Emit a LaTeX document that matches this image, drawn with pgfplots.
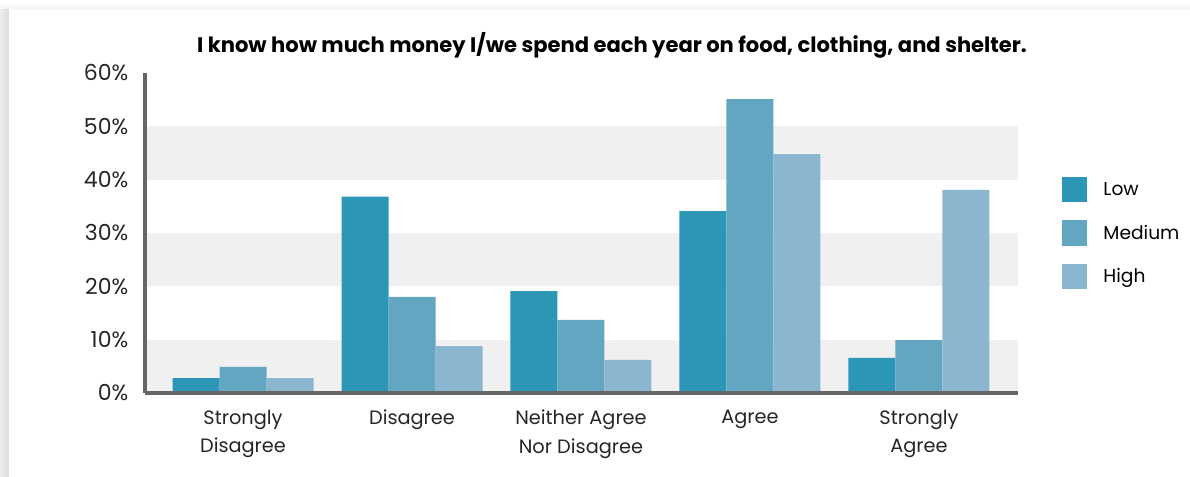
\documentclass[border=0pt]{standalone}
\usepackage{fontspec}
\setmainfont{Poppins}
\usepackage{pgfplots}
\pgfplotsset{compat=1.18}
\definecolor{cLow}{HTML}{2C96B6}
\definecolor{cMed}{HTML}{62A6C1}
\definecolor{cHigh}{HTML}{8BB6D0}
\definecolor{band}{HTML}{F0F0F0}
\definecolor{axisgray}{HTML}{666666}
\definecolor{shadowL}{HTML}{EDEDED}
\definecolor{shadowD}{HTML}{DCDCDC}
\definecolor{shadowT}{HTML}{F4F4F4}
\begin{document}
\begin{tikzpicture}[x=0.75pt,y=0.75pt]
\useasboundingbox (0,0) rectangle (1190,477);
\shade[top color=white, bottom color=shadowT] (0,467) rectangle (1190,477);
\shade[left color=shadowL, right color=shadowD] (0,0) rectangle (9,467);
\fill[white] (9,0) rectangle (1190,467);
\coordinate (O) at (145,84);
\node[font=\bfseries\fontsize{15.8}{18}\selectfont, text=black] at (612,432) {I know how much money I/we spend each year on food, clothing, and shelter.};
\begin{axis}[
  at={(O)}, anchor=south west,
  scale only axis, width=654.75pt, height=240pt,
  ymin=0, ymax=60, xmin=-0.58, xmax=4.586,
  ytick={0,10,...,60},
  yticklabel={\pgfmathprintnumber{\tick}\%},
  xtick={0,1,2,3,4},
  xticklabels={{Strongly\\Disagree},{Disagree},{Neither Agree\\Nor Disagree},{Agree},{Strongly\\Agree}},
  /pgf/number format/assume math mode=true,
  major tick length=0pt,
  axis on top=true,
  axis x line*=bottom, axis y line*=left,
  axis line style={axisgray, line width=2.3pt, -},
  every outer x axis line/.append style={axisgray, line width=2.3pt},
  every outer y axis line/.append style={axisgray, line width=2.3pt},
  ticklabel style={font=\fontsize{14.5}{21.7}\selectfont, text=black!85},
  xticklabel style={align=center, anchor=north, yshift=-9pt},
  yticklabel style={anchor=east, xshift=-9pt, font=\fontsize{16.5}{20}\selectfont},
  ybar=0pt, bar width=35.25pt,
  legend style={at={(1.046,0.5)}, anchor=west, draw=none, fill=none,
    font=\fontsize{14}{17}\selectfont, row sep=13.5pt, cells={anchor=west},
    /tikz/every odd column/.append style={column sep=10pt}},
  legend image code/.code={\fill[#1] (0pt,-9.4pt) rectangle (18.75pt,9.4pt);},
  clip=false,
]
\fill[band] (axis cs:-0.58,0) rectangle (axis cs:4.586,10);
\fill[band] (axis cs:-0.58,20) rectangle (axis cs:4.586,30);
\fill[band] (axis cs:-0.58,40) rectangle (axis cs:4.586,50);
\addplot[fill=cLow, draw=none] coordinates {(0,2.8) (1,36.8) (2,19.1) (3,34.1) (4,6.6)};
\addplot[fill=cMed, draw=none] coordinates {(0,4.9) (1,18.0) (2,13.7) (3,55.1) (4,9.9)};
\addplot[fill=cHigh, draw=none] coordinates {(0,2.8) (1,8.8) (2,6.2) (3,44.8) (4,38.1)};
\legend{Low,Medium,High}
\end{axis}
\end{tikzpicture}
\end{document}
